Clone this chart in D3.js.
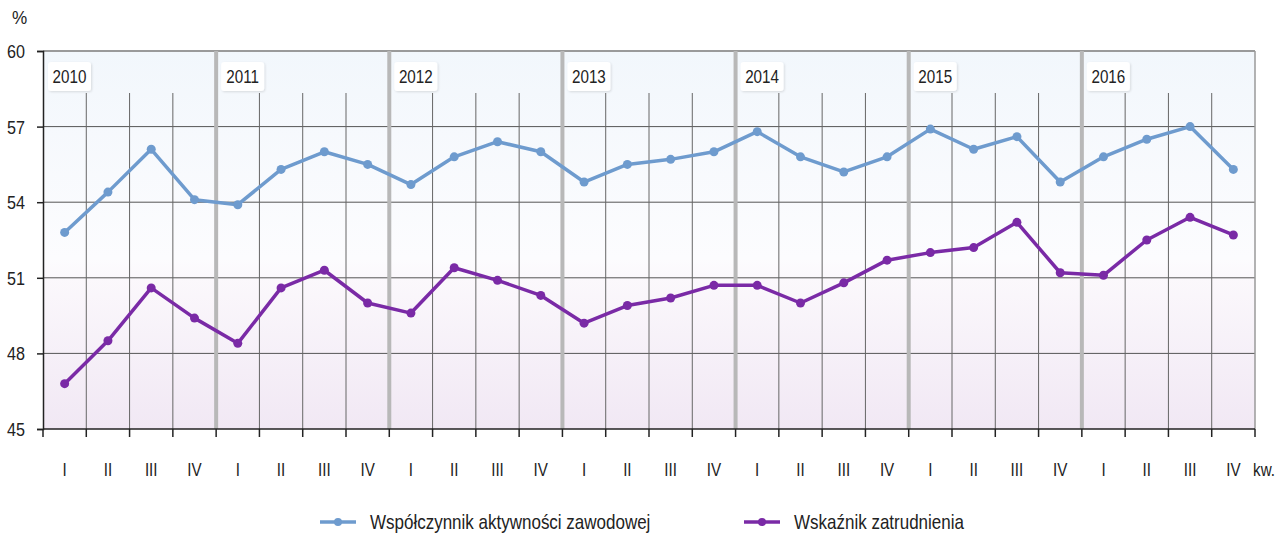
<!DOCTYPE html>
<html>
<head>
<meta charset="utf-8">
<script src="https://cdn.jsdelivr.net/npm/d3@7"></script>
<style>
  body { margin: 0; background: #fff; }
  svg { display: block; font-family: "Liberation Sans", Arial, sans-serif; }
</style>
</head>
<body>
<svg id="chart" width="1277" height="534"></svg>
<script>
// Chart data
var years = [2010, 2011, 2012, 2013, 2014, 2015, 2016];
var quarters = ["I", "II", "III", "IV"];
var yTicks = [45, 48, 51, 54, 57, 60];
// Współczynnik aktywności zawodowej
var activity = [52.8, 54.4, 56.1, 54.1,
                53.9, 55.3, 56.0, 55.5,
                54.7, 55.8, 56.4, 56.0,
                54.8, 55.5, 55.7, 56.0,
                56.8, 55.8, 55.2, 55.8,
                56.9, 56.1, 56.6, 54.8,
                55.8, 56.5, 57.0, 55.3];
// Wskaźnik zatrudnienia
var employment = [46.8, 48.5, 50.6, 49.4,
                  48.4, 50.6, 51.3, 50.0,
                  49.6, 51.4, 50.9, 50.3,
                  49.2, 49.9, 50.2, 50.7,
                  50.7, 50.0, 50.8, 51.7,
                  52.0, 52.2, 53.2, 51.2,
                  51.1, 52.5, 53.4, 52.7];
var seriesNames = ["Współczynnik aktywności zawodowej", "Wskaźnik zatrudnienia"];
var seriesColors = ["#6e9bce", "#7a2aa6"];

// Layout
var margin = {top: 51, right: 22, bottom: 105, left: 43},
  width = 1277 - margin.left - margin.right,
  height = 534 - margin.top - margin.bottom;

// No narrow font installed: squeeze regular text horizontally instead.
var squeeze = 0.8;
function narrowText(sel, px, py, k) {
  return sel.attr("transform", function(d, i) {
    var tx = typeof px == "function" ? px(d, i) : px;
    var ty = typeof py == "function" ? py(d, i) : py;
    return "translate(" + tx + "," + ty + ") scale(" + (k || squeeze) + ",1)";
  });
}

// one key per quarter
var keys = [];
years.forEach(function(y) {
  quarters.forEach(function(q) { keys.push(y + "-" + q); });
});

var x = d3.scaleBand().domain(keys).range([0, width]).padding(0);
var y = d3.scaleLinear().domain([45, 60]).range([height, 0]);
var cx = function(i) { return x(keys[i]) + x.bandwidth() / 2; };

var svg = d3.select("#chart");
var defs = svg.append("defs");

var grad = defs.append("linearGradient")
  .attr("id", "bg").attr("x1", 0).attr("y1", 0).attr("x2", 0).attr("y2", 1);
grad.append("stop").attr("offset", "0%").attr("stop-color", "#f2f7fc");
grad.append("stop").attr("offset", "55%").attr("stop-color", "#fcfcfe");
grad.append("stop").attr("offset", "60%").attr("stop-color", "#fbf8fc");
grad.append("stop").attr("offset", "100%").attr("stop-color", "#f1e8f4");

var shadow = defs.append("filter").attr("id", "shadow")
  .attr("x", "-20%").attr("y", "-20%").attr("width", "150%").attr("height", "150%");
shadow.append("feDropShadow").attr("dx", 1).attr("dy", 1)
  .attr("stdDeviation", 1.2).attr("flood-color", "#000").attr("flood-opacity", 0.12);

var g = svg.append("g")
  .attr("transform", "translate(" + margin.left + "," + margin.top + ")");

// Plot background
g.append("rect")
  .attr("width", width).attr("height", height)
  .attr("fill", "url(#bg)");

// Horizontal grid lines
g.selectAll(".hgrid")
  .data(yTicks.filter(function(d) { return d > 45 && d < 60; }))
  .enter().append("line")
  .attr("x1", 0).attr("x2", width)
  .attr("y1", function(d) { return y(d); })
  .attr("y2", function(d) { return y(d); })
  .attr("stroke", "#555").attr("stroke-width", 1);

// Quarter separators (not at year boundaries)
var labelBottom = 42;
g.selectAll(".qgrid")
  .data(keys.filter(function(k, i) { return i % 4 != 0; }))
  .enter().append("line")
  .attr("x1", function(d) { return x(d); })
  .attr("x2", function(d) { return x(d); })
  .attr("y1", labelBottom).attr("y2", height)
  .attr("stroke", "#666").attr("stroke-width", 1);

// Top and right border
g.append("line").attr("x1", 0).attr("x2", width).attr("y1", 0).attr("y2", 0)
  .attr("stroke", "#9a9a9a").attr("stroke-width", 2);
g.append("line").attr("x1", width).attr("x2", width).attr("y1", 0).attr("y2", height)
  .attr("stroke", "#9a9a9a").attr("stroke-width", 1.5);

// Year separators
g.selectAll(".ygrid")
  .data(years.slice(1))
  .enter().append("line")
  .attr("x1", function(d) { return x(d + "-I"); })
  .attr("x2", function(d) { return x(d + "-I"); })
  .attr("y1", 0).attr("y2", height)
  .attr("stroke", "#b8b8b8").attr("stroke-width", 4);

// Year label boxes
var yearLabel = g.selectAll(".yearLabel")
  .data(years)
  .enter().append("g")
  .attr("transform", function(d) { return "translate(" + (x(d + "-I") + 5) + ",11)"; });
yearLabel.append("rect")
  .attr("width", 43).attr("height", 29).attr("rx", 3)
  .attr("fill", "#fff").attr("filter", "url(#shadow)");
narrowText(yearLabel.append("text"), 21.5, 21)
  .attr("text-anchor", "middle")
  .attr("font-size", 19).attr("fill", "#222")
  .text(function(d) { return d; });

// Y axis
var yAxis = g.append("g")
  .call(d3.axisLeft(y).tickValues(yTicks).tickSize(6).tickFormat(""));
yAxis.select(".domain").attr("stroke", "#222").attr("stroke-width", 1.5);
yAxis.selectAll(".tick line").attr("stroke", "#222").attr("stroke-width", 1.5);
narrowText(g.selectAll(".ylabel").data(yTicks).enter().append("text"),
    -18, function(d) { return y(d) + 7; }, 0.85)
  .attr("text-anchor", "end")
  .attr("font-size", 19).attr("fill", "#222")
  .text(function(d) { return d; });

// X axis
var xAxis = g.append("g")
  .attr("transform", "translate(0," + height + ")");
xAxis.append("line").attr("x1", 0).attr("x2", width)
  .attr("stroke", "#222").attr("stroke-width", 1.5);
xAxis.selectAll(".xtick")
  .data(keys.concat(["end"]))
  .enter().append("line")
  .attr("x1", function(d) { return d == "end" ? width : x(d); })
  .attr("x2", function(d) { return d == "end" ? width : x(d); })
  .attr("y1", 0).attr("y2", 8)
  .attr("stroke", "#222").attr("stroke-width", 1.5);
narrowText(xAxis.selectAll(".xlabel").data(keys).enter().append("text"),
    function(d, i) { return cx(i); }, 47)
  .attr("text-anchor", "middle")
  .attr("font-size", 19).attr("fill", "#222")
  .text(function(d) { return d.split("-")[1]; });
narrowText(xAxis.append("text"), width + 20, 47)
  .attr("text-anchor", "end")
  .attr("font-size", 19).attr("fill", "#222")
  .text("kw.");

// Unit
narrowText(svg.append("text"), 12, 24, 0.9)
  .attr("font-size", 19).attr("fill", "#222").text("%");

// Series lines
var line = d3.line()
  .x(function(d, i) { return cx(i); })
  .y(function(d) { return y(d); });

[activity, employment].forEach(function(series, s) {
  g.append("path")
    .datum(series)
    .attr("fill", "none")
    .attr("stroke", seriesColors[s])
    .attr("stroke-width", 3.5)
    .attr("stroke-linejoin", "round")
    .attr("d", line);
  g.selectAll(".dot" + s)
    .data(series)
    .enter().append("circle")
    .attr("cx", function(d, i) { return cx(i); })
    .attr("cy", function(d) { return y(d); })
    .attr("r", 4.5)
    .attr("fill", seriesColors[s]);
});

// Legend
var legendX = [320, 744];
var legend = svg.selectAll(".legend")
  .data(seriesNames)
  .enter().append("g")
  .attr("transform", function(d, i) { return "translate(" + legendX[i] + ",522)"; });
legend.append("line")
  .attr("x1", 0).attr("x2", 36).attr("y1", 0).attr("y2", 0)
  .attr("stroke", function(d, i) { return seriesColors[i]; })
  .attr("stroke-width", 3.5);
legend.append("circle")
  .attr("cx", 18).attr("cy", 0).attr("r", 4)
  .attr("fill", function(d, i) { return seriesColors[i]; });
narrowText(legend.append("text"), 50, 7, 0.85)
  .attr("font-size", 20).attr("fill", "#222")
  .text(function(d) { return d; });
</script>
</body>
</html>
